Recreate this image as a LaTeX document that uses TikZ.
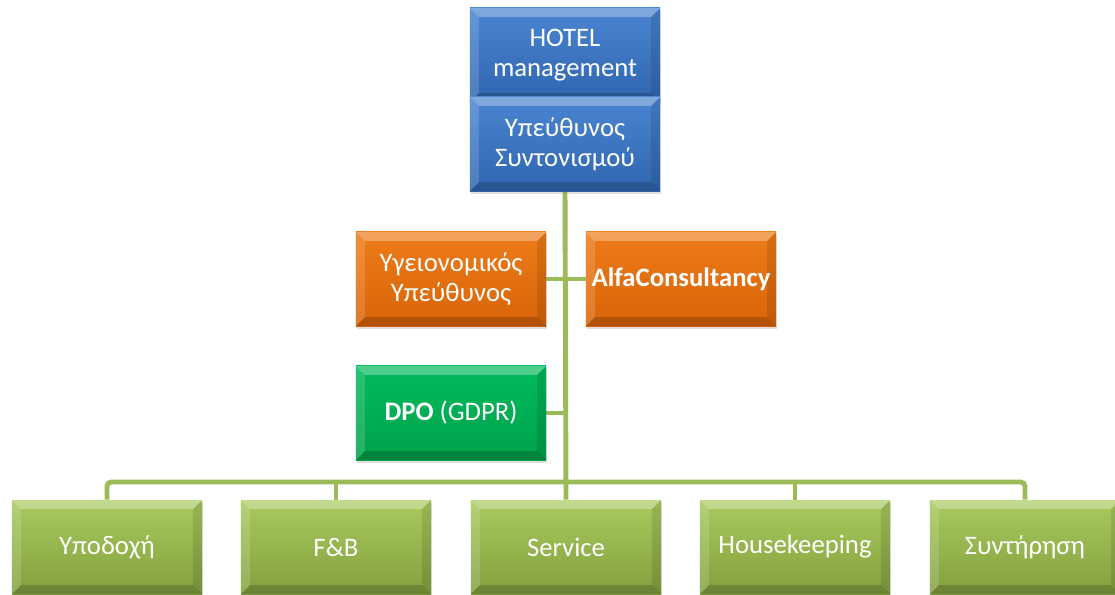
\documentclass[tikz,border=0pt]{standalone}
\usepackage{fontspec}
\setmainfont{Carlito}
\usetikzlibrary{backgrounds,shadows}

\definecolor{linkgreen}{RGB}{155,187,89}
\definecolor{blueT}{RGB}{74,132,208}
\definecolor{blueB}{RGB}{48,102,176}
\definecolor{orangeT}{RGB}{238,124,24}
\definecolor{orangeB}{RGB}{216,100,8}
\definecolor{dpoT}{RGB}{0,186,92}
\definecolor{dpoB}{RGB}{0,162,76}
\definecolor{deptT}{RGB}{168,202,94}
\definecolor{deptB}{RGB}{130,160,62}

% bevelled edges, as in the office boxes
\tikzset{
  bevel/.style={path picture={
    \coordinate (nw) at (path picture bounding box.north west);
    \coordinate (ne) at (path picture bounding box.north east);
    \coordinate (sw) at (path picture bounding box.south west);
    \coordinate (se) at (path picture bounding box.south east);
    \fill[white,opacity=0.30] (nw) -- (ne) -- ([shift={(-0.22cm,-0.22cm)}]ne) -- ([shift={(0.22cm,-0.22cm)}]nw) -- cycle;
    \fill[white,opacity=0.15] (nw) -- ([shift={(0.22cm,-0.22cm)}]nw) -- ([shift={(0.22cm,0.22cm)}]sw) -- (sw) -- cycle;
    \fill[black,opacity=0.10] (ne) -- (se) -- ([shift={(-0.22cm,0.22cm)}]se) -- ([shift={(-0.22cm,-0.22cm)}]ne) -- cycle;
    \fill[black,opacity=0.18] (sw) -- ([shift={(0.22cm,0.22cm)}]sw) -- ([shift={(-0.22cm,0.22cm)}]se) -- (se) -- cycle;
  }}
}

\begin{document}
\begin{tikzpicture}[x=0.025cm,y=-0.025cm,
  box/.style={minimum width=4.75cm,minimum height=2.35cm,inner sep=2pt,align=center,
    text=white,font=\fontsize{19}{21}\selectfont,bevel,
    drop shadow={shadow xshift=0.6pt,shadow yshift=-1.8pt,opacity=0.25}},
  bluebox/.style={box,top color=blueT,bottom color=blueB},
  orangebox/.style={box,top color=orangeT,bottom color=orangeB},
  dpobox/.style={box,top color=dpoT,bottom color=dpoB},
  deptbox/.style={box,top color=deptT,bottom color=deptB},
  link/.style={draw=linkgreen,line width=3.5pt}]
\useasboundingbox (0,0) rectangle (1115,594);

% management on top
\node[bluebox] (hotel) at (565,55) {HOTEL\\management};
\node[bluebox] (coord) at (565,144) {Υπεύθυνος\\Συντονισμού};

% staff functions
\node[orangebox] (health) at (451,279) {Υγειονομικός\\Υπεύθυνος};
\node[orangebox] (alfa) at (681,279) {\textbf{AlfaConsultancy}};
\node[dpobox] (dpo) at (451,413) {\textbf{DPO} (GDPR)};

% departments
\node[deptbox] (reception) at (107,547) {Υποδοχή};
\node[deptbox] (fb) at (336,547) {F\&B};
\node[deptbox] (service) at (566,547) {Service};
\node[deptbox] (house) at (795,547) {Housekeeping};
\node[deptbox] (maint) at (1025,547) {Συντήρηση};
\coordinate (bus) at (566,482);

% connectors behind the boxes
\begin{pgfonlayer}{background}
  \draw[link] (coord.south) -- (service.north);
  \draw[link] (health.east) -- (alfa.west);
  \draw[link] (dpo.east) -- (dpo.east -| service.north);
  \draw[link,rounded corners=3pt] (reception.north) |- (bus) -| (maint.north);
  \draw[link] (fb.north) -- (fb.north |- bus);
  \draw[link] (house.north) -- (house.north |- bus);
\end{pgfonlayer}
\end{tikzpicture}
\end{document}
